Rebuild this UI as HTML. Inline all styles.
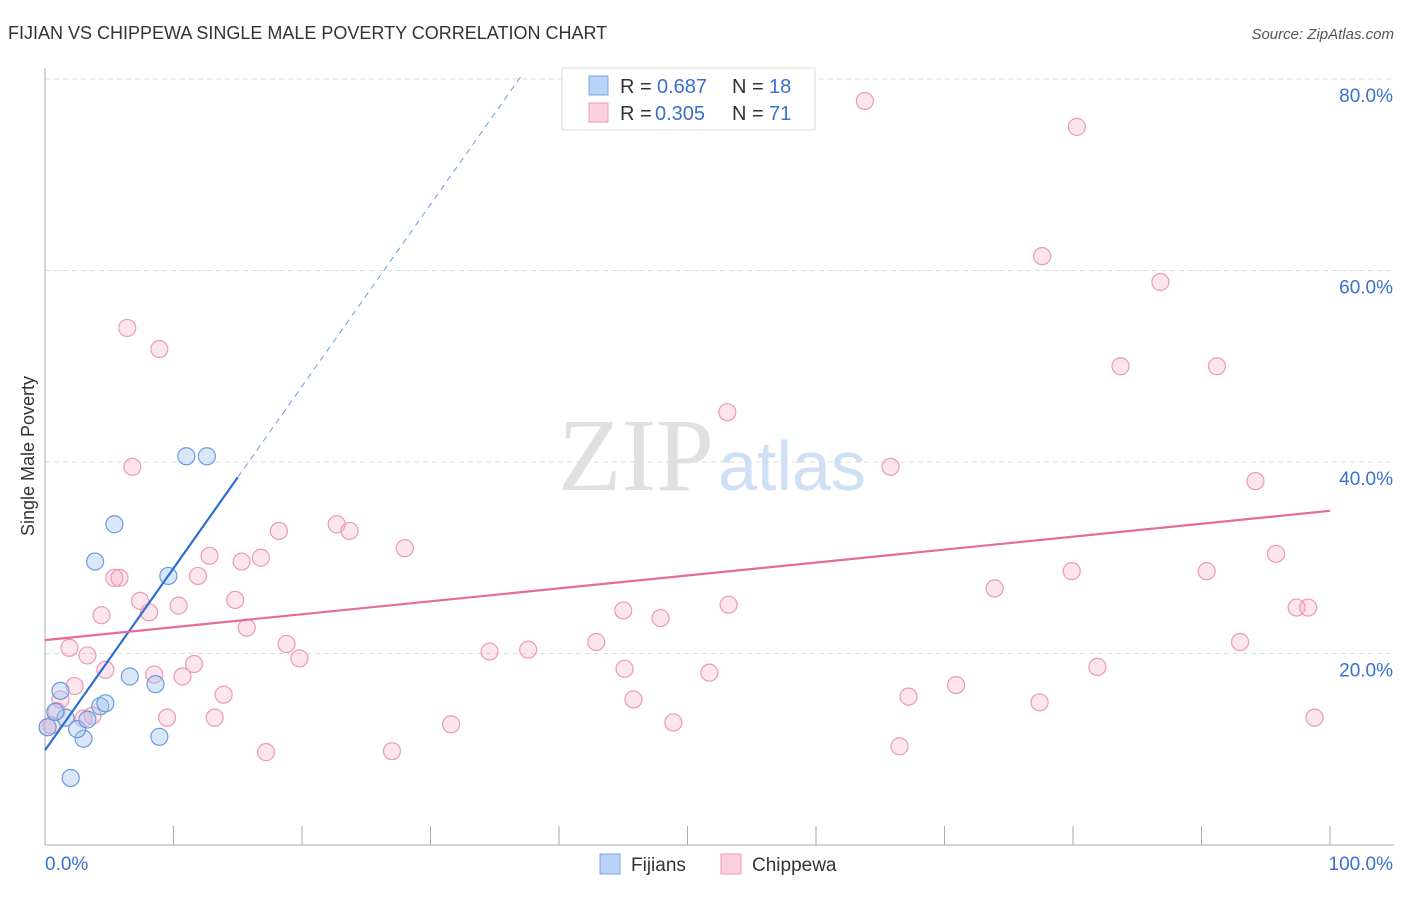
<!DOCTYPE html>
<html><head><meta charset="utf-8"><style>
body{margin:0;background:#fff;font-family:"Liberation Sans",sans-serif;}
</style></head><body>
<svg id="c" width="1406" height="892" xmlns="http://www.w3.org/2000/svg">
<text x="8" y="39" font-size="18" fill="#333">FIJIAN VS CHIPPEWA SINGLE MALE POVERTY CORRELATION CHART</text>
<text x="1394" y="39" font-size="15" fill="#555" font-style="italic" text-anchor="end">Source: ZipAtlas.com</text>
<text x="34" y="456" font-size="18" fill="#333" text-anchor="middle" transform="rotate(-90 34 456)">Single Male Poverty</text>
<g id="grid"></g>
<text x="714" y="490" font-size="104" fill="#e0e0e0" text-anchor="end" font-family="Liberation Serif,serif">ZIP</text>
<text x="718" y="490" font-size="70" fill="#cfdff4">atlas</text>
<g id="marks"></g>
<g>
<rect x="562" y="68" width="253" height="62" fill="#fff" stroke="#ddd"/>
<rect x="589" y="76" width="19" height="19" fill="#b8d2f5" stroke="#7aa5e0"/>
<text x="620" y="93" font-size="20" fill="#333">R =</text>
<text x="657" y="93" font-size="20" fill="#3a70d0">0.687</text>
<text x="732" y="93" font-size="20" fill="#333">N =</text>
<text x="769" y="93" font-size="20" fill="#3a70d0">18</text>
<rect x="589" y="103" width="19" height="19" fill="#fbd0dc" stroke="#eb9ab5"/>
<text x="620" y="120" font-size="20" fill="#333">R =</text>
<text x="655" y="120" font-size="20" fill="#3a70d0">0.305</text>
<text x="732" y="120" font-size="20" fill="#333">N =</text>
<text x="769" y="120" font-size="20" fill="#3a70d0">71</text>
</g>
<g>
<rect x="600" y="854" width="20" height="20" fill="#b8d2f5" stroke="#7aa5e0"/>
<text x="631" y="871" font-size="19" fill="#333">Fijians</text>
<rect x="721" y="854" width="20" height="20" fill="#fbd0dc" stroke="#eb9ab5"/>
<text x="752" y="871" font-size="19" fill="#333">Chippewa</text>
</g>
</svg>
<script>
const yTicks=[20,40,60,80];
const yTickLabels=["20.0%","40.0%","60.0%","80.0%"];
const xTickCount=10;
const fijX=[1.2,3.9,5.4,11.0,12.6,9.6,6.6,8.6,4.3,4.7,3.0,8.9,2.0,1.6,2.5,0.8,0.2,3.3];
const fijY=[16.1,29.6,33.5,40.6,40.6,28.1,17.6,16.8,14.5,14.8,11.1,11.3,7.0,13.3,12.1,13.9,12.3,13.1];
const chiX=[6.4,8.9,6.8,63.8,80.3,77.6,86.8,83.7,91.2,53.1,65.8,94.2,22.7,23.7,18.2,28.0,12.8,15.3,16.8,5.4,5.8,11.9,7.4,14.8,10.4,8.1,4.4,95.8,79.9,90.4,73.9,45.0,53.2,47.9,97.4,98.3,15.7,18.8,19.8,1.9,3.3,42.9,37.6,34.6,93.0,81.9,11.6,4.7,8.5,10.7,45.1,51.7,2.3,1.2,13.9,67.2,70.9,45.8,77.4,3.7,9.5,13.2,0.9,0.5,3.0,31.6,48.9,98.8,17.2,27.0,66.5,0.2];
const chiY=[54.0,51.8,39.5,77.7,75.0,61.5,58.8,50.0,50.0,45.2,39.5,38.0,33.5,32.8,32.8,31.0,30.2,29.6,30.0,27.9,27.9,28.1,25.5,25.6,25.0,24.3,24.0,30.4,28.6,28.6,26.8,24.5,25.1,23.7,24.8,24.8,22.7,21.0,19.5,20.6,19.8,21.2,20.4,20.2,21.2,18.6,18.9,18.3,17.8,17.6,18.4,18.0,16.6,15.2,15.7,15.5,16.7,15.2,14.9,13.5,13.3,13.3,14.0,12.5,13.2,12.6,12.8,13.3,9.7,9.8,10.3,12.3];
const fijLine=[9.9,38.4];
const fijLineEndX=15;
const chiLine=[21.4,34.9];
const X=v=>45+v*12.85, Y=v=>845-v*9.575;
const NS="http://www.w3.org/2000/svg";
function mk(t,a,p){const e=document.createElementNS(NS,t);for(const k in a)e.setAttribute(k,a[k]);p.appendChild(e);return e;}
const g=document.getElementById('grid'), m=document.getElementById('marks');
yTicks.forEach((t,i)=>{
 const l=mk('line',{x1:45,x2:1394,y1:Y(t),y2:Y(t),stroke:'#ddd','stroke-dasharray':'5,4'},g);
 
 
 const tx=mk('text',{x:1393,y:Y(t)+23,'font-size':19,fill:'#3a70d0','text-anchor':'end'},g);
 tx.textContent=yTickLabels[i];
 
 
});
const ax=mk('line',{x1:45,x2:45,y1:68,y2:845,stroke:'#aaa'},g);


const bx=mk('line',{x1:45,x2:1394,y1:845,y2:845,stroke:'#aaa'},g);


for(let i=0;i<=xTickCount;i++){const tk=mk('line',{x1:X(i*10),x2:X(i*10),y1:826,y2:845,stroke:'#aaa'},g);
 
 }
const xl=mk('text',{x:45,y:870,'font-size':19,fill:'#3a70d0'},g);xl.textContent='0.0%';


const xr=mk('text',{x:1393,y:870,'font-size':19,fill:'#3a70d0','text-anchor':'end'},g);xr.textContent='100.0%';


chiX.forEach((x,i)=>{const c=mk('circle',{cx:X(x),cy:Y(chiY[i]),r:8.5,fill:'rgba(245,170,195,0.3)',stroke:'#eb9ab5','stroke-width':1.2},m);
 
 });
fijX.forEach((x,i)=>{const c=mk('circle',{cx:X(x),cy:Y(fijY[i]),r:8.5,fill:'rgba(160,195,240,0.4)',stroke:'#6a9be0','stroke-width':1.2},m);
 
 });
const slope=(fijLine[1]-fijLine[0])/fijLineEndX;
const dashEndX=(80.5-fijLine[0])/slope;
const fd=mk('line',{x1:X(fijLineEndX),y1:Y(fijLine[1]),x2:X(dashEndX),y2:Y(80.5),stroke:'#6a9be0','stroke-dasharray':'6,5','stroke-width':1},m);


const fl=mk('line',{x1:X(0),y1:Y(fijLine[0]),x2:X(fijLineEndX),y2:Y(fijLine[1]),stroke:'#2a6fd6','stroke-width':2.2},m);


const cl=mk('line',{x1:X(0),y1:Y(chiLine[0]),x2:X(100),y2:Y(chiLine[1]),stroke:'#e8699a','stroke-width':2.2},m);


</script>
</body></html>
